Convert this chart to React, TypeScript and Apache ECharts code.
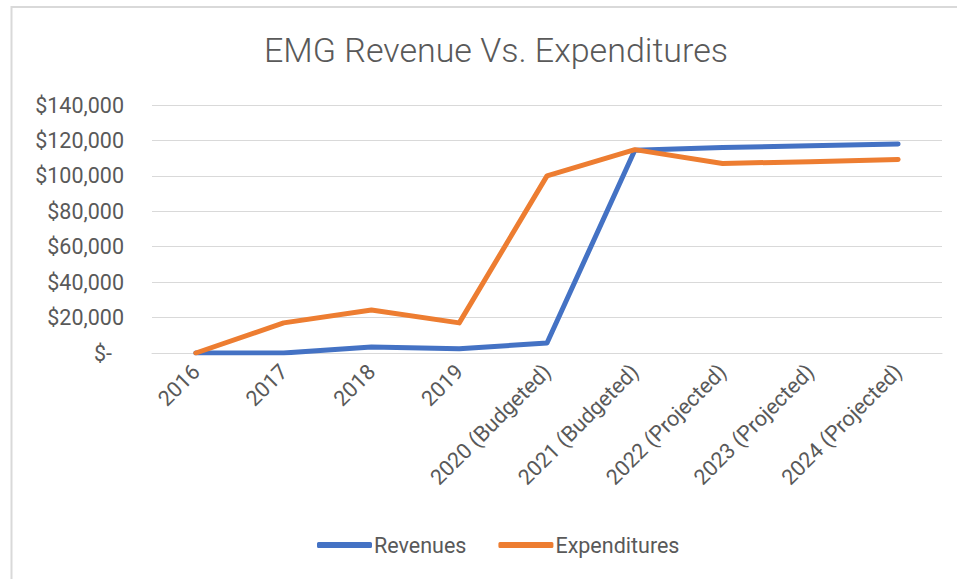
import React, { useEffect, useRef } from "react";
import * as echarts from "echarts";

const categories = [
  "2016",
  "2017",
  "2018",
  "2019",
  "2020 (Budgeted)",
  "2021 (Budgeted)",
  "2022 (Projected)",
  "2023 (Projected)",
  "2024 (Projected)",
];
const revenues = [0, 0, 3400, 2400, 5600, 114500, 116000, 117000, 118000];
const expenditures = [0, 17000, 24300, 17000, 100000, 114800, 107000, 108000, 109300];
const yTicks = { min: 0, max: 140000, interval: 20000 };

const FONT = "Roboto, 'Open Sans', sans-serif";
const TEXT = "#595959";
const LABEL_SIZE = 21.5;

export default function App() {
  const ref = useRef<HTMLDivElement>(null);
  useEffect(() => {
    const chart = echarts.init(ref.current!, null, { renderer: "svg" });
    chart.setOption({
      animation: false,
      backgroundColor: "#ffffff",
      title: {
        text: "EMG Revenue Vs. Expenditures",
        left: 491,
        textAlign: "center",
        top: 28,
        textStyle: { fontFamily: FONT, fontSize: 34, fontWeight: 300, color: TEXT },
      },
      legend: {
        top: 529,
        left: 312,
        itemWidth: 55,
        itemHeight: 6,
        itemGap: 32,
        icon: "roundRect",
        textStyle: { fontFamily: FONT, fontSize: LABEL_SIZE, color: TEXT, padding: [0, 0, 0, -3] },
        data: ["Revenues", "Expenditures"],
      },
      grid: { left: 152, right: 15, top: 105, bottom: 226, containLabel: false },
      xAxis: {
        type: "category",
        data: categories,
        boundaryGap: true,
        axisLine: { show: true, lineStyle: { color: "#D9D9D9", width: 1 } },
        axisTick: { show: false },
        axisLabel: {
          rotate: 45,
          interval: 0,
          margin: 15,
          fontFamily: FONT,
          fontSize: LABEL_SIZE,
          color: TEXT,
        },
      },
      yAxis: {
        type: "value",
        min: yTicks.min,
        max: yTicks.max,
        interval: yTicks.interval,
        axisLine: { show: false },
        axisTick: { show: false },
        splitLine: { lineStyle: { color: "#D9D9D9", width: 1 } },
        axisLabel: {
          margin: 28,
          fontFamily: FONT,
          fontSize: LABEL_SIZE,
          color: TEXT,
          formatter: (v: number) =>
            v === 0 ? "{z|$-}" : "$" + v.toLocaleString("en-US"),
          rich: {
            z: { fontFamily: FONT, fontSize: LABEL_SIZE, color: TEXT, padding: [0, 12, 0, 0] },
          },
        },
      },
      series: [
        {
          name: "Revenues",
          type: "line",
          data: revenues,
          symbol: "none",
          lineStyle: { color: "#4472C4", width: 5, cap: "round", join: "round" },
          itemStyle: { color: "#4472C4" },
        },
        {
          name: "Expenditures",
          type: "line",
          data: expenditures,
          symbol: "none",
          lineStyle: { color: "#ED7D31", width: 5, cap: "round", join: "round" },
          itemStyle: { color: "#ED7D31" },
        },
      ],
      graphic: [
        {
          type: "rect",
          shape: { x: 11.5, y: 7, width: 1000, height: 1000 },
          style: { fill: "none", stroke: "#D9D9D9", lineWidth: 2 },
          silent: true,
          z: -1,
        },
      ],
    });
    return () => chart.dispose();
  }, []);
  return <div ref={ref} style={{ width: 957, height: 579, position: "absolute", left: 0, top: 0 }} />;
}
